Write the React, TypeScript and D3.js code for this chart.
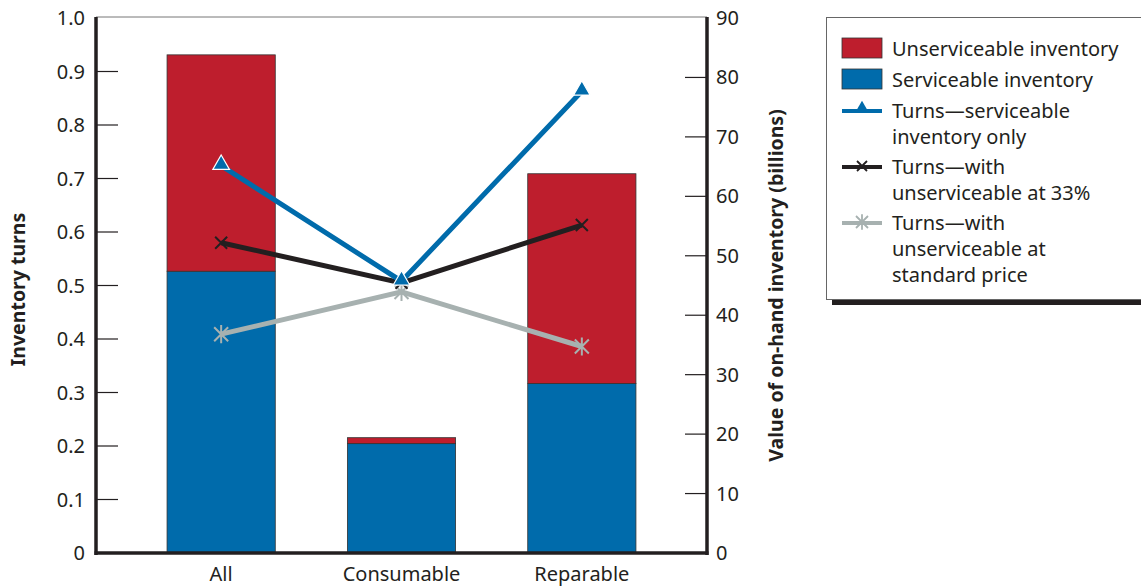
import React, { useEffect, useRef } from "react";
import * as d3 from "d3";

const categories = ["All", "Consumable", "Reparable"];
const serviceable = [47.4, 18.4, 28.5];
const unserviceable = [36.4, 1.0, 35.3];
const turnsServiceable = [0.724, 0.508, 0.863];
const turns33 = [0.58, 0.505, 0.613];
const turnsStandard = [0.409, 0.488, 0.386];
const leftTicks = [0, 0.1, 0.2, 0.3, 0.4, 0.5, 0.6, 0.7, 0.8, 0.9, 1.0];
const rightTicks = [0, 10, 20, 30, 40, 50, 60, 70, 80, 90];

const RED = "#BE1E2D";
const BLUE = "#006BAB";
const BLACK = "#231F20";
const GRAY = "#A7B1B0";
const FONT = "'Noto Sans', 'Open Sans', sans-serif";

export default function App() {
  const ref = useRef<SVGSVGElement>(null);

  useEffect(() => {
    const svg = d3.select(ref.current);
    svg.selectAll("*").remove();
    const L = 96, R = 707, T = 18, B = 553;

    const x = d3.scaleBand<string>().domain(categories).range([L, R]).paddingInner(0.4).paddingOuter(0.394);
    const yL = d3.scaleLinear().domain([0, 1]).range([B, T]);
    const yR = d3.scaleLinear().domain([0, 90]).range([B, T]);

    // top border
    svg.append("line").attr("x1", L).attr("x2", R).attr("y1", T - 1).attr("y2", T - 1).attr("stroke", "#777").attr("stroke-width", 1);

    // bars
    const g = svg.append("g");
    categories.forEach((c, i) => {
      const x0 = x(c)!;
      const w = x.bandwidth();
      g.append("rect").attr("x", x0).attr("y", yR(serviceable[i])).attr("width", w)
        .attr("height", yR(0) - yR(serviceable[i])).attr("fill", BLUE).attr("stroke", "#333").attr("stroke-width", 0.8);
      g.append("rect").attr("x", x0).attr("y", yR(serviceable[i] + unserviceable[i])).attr("width", w)
        .attr("height", yR(serviceable[i]) - yR(serviceable[i] + unserviceable[i])).attr("fill", RED).attr("stroke", "#333").attr("stroke-width", 0.8);
    });

    // axes lines
    svg.append("line").attr("x1", L).attr("x2", L).attr("y1", T - 1).attr("y2", B + 2).attr("stroke", BLACK).attr("stroke-width", 3.5);
    svg.append("line").attr("x1", R).attr("x2", R).attr("y1", T - 1).attr("y2", B + 2).attr("stroke", BLACK).attr("stroke-width", 3.5);
    svg.append("line").attr("x1", L - 1.5).attr("x2", R + 1.5).attr("y1", B).attr("y2", B).attr("stroke", BLACK).attr("stroke-width", 3.5);

    // left ticks
    leftTicks.forEach((t) => {
      if (t > 0 && t < 1) {
        svg.append("line").attr("x1", L).attr("x2", L + 22).attr("y1", yL(t)).attr("y2", yL(t)).attr("stroke", BLACK).attr("stroke-width", 1.2);
      }
      svg.append("text").attr("x", 85).attr("y", yL(t)).attr("dy", "0.35em").attr("text-anchor", "end")
        .attr("font-family", FONT).attr("font-size", 20).attr("fill", BLACK).text(t === 0 ? "0" : t.toFixed(1));
    });
    rightTicks.forEach((t) => {
      if (t > 0 && t < 90) {
        svg.append("line").attr("x1", R - 22).attr("x2", R).attr("y1", yR(t)).attr("y2", yR(t)).attr("stroke", BLACK).attr("stroke-width", 1.2);
      }
      svg.append("text").attr("x", 716).attr("y", yR(t)).attr("dy", "0.35em").attr("text-anchor", "start")
        .attr("font-family", FONT).attr("font-size", 20).attr("fill", BLACK).text(String(t));
    });

    // category labels
    categories.forEach((c) => {
      svg.append("text").attr("x", x(c)! + x.bandwidth() / 2).attr("y", 581).attr("text-anchor", "middle")
        .attr("font-family", FONT).attr("font-size", 20).attr("fill", BLACK).text(c);
    });

    // axis titles
    svg.append("text").attr("transform", `translate(25,${(T + B) / 2 + 4}) rotate(-90)`).attr("text-anchor", "middle")
      .attr("font-family", FONT).attr("font-weight", "bold").attr("font-size", 19.5).attr("fill", BLACK).text("Inventory turns");
    svg.append("text").attr("transform", `translate(783,${(T + B) / 2}) rotate(-90)`).attr("text-anchor", "middle")
      .attr("font-family", FONT).attr("font-weight", "bold").attr("font-size", 19.5).attr("fill", BLACK).text("Value of on-hand inventory (billions)");

    const cx = (i: number) => x(categories[i])! + x.bandwidth() / 2;
    const line = d3.line<number>().x((_, i) => cx(i)).y((d) => yL(d));

    const tri = d3.symbol().type(d3.symbolTriangle).size(120);
    const drawX = (sel: any, px: number, py: number, color: string, s: number, w: number) => {
      sel.append("path").attr("d", `M${px - s},${py - s}L${px + s},${py + s}M${px - s},${py + s}L${px + s},${py - s}`)
        .attr("stroke", color).attr("stroke-width", w).attr("fill", "none");
    };
    const drawStar = (sel: any, px: number, py: number, color: string, s: number, w: number) => {
      sel.append("path").attr("d", `M${px - s},${py - s}L${px + s},${py + s}M${px - s},${py + s}L${px + s},${py - s}M${px},${py - s * 1.3}L${px},${py + s * 1.3}`)
        .attr("stroke", color).attr("stroke-width", w).attr("fill", "none");
    };

    // gray line
    svg.append("path").attr("d", line(turnsStandard)).attr("stroke", GRAY).attr("stroke-width", 5).attr("fill", "none");
    turnsStandard.forEach((v, i) => drawStar(svg, cx(i), yL(v), GRAY, 7, 2));
    // black line
    svg.append("path").attr("d", line(turns33)).attr("stroke", BLACK).attr("stroke-width", 5).attr("fill", "none");
    turns33.forEach((v, i) => drawX(svg, cx(i), yL(v), BLACK, 6, 2));
    // blue line
    svg.append("path").attr("d", line(turnsServiceable)).attr("stroke", BLUE).attr("stroke-width", 5).attr("fill", "none");
    turnsServiceable.forEach((v, i) => {
      svg.append("path").attr("d", tri).attr("transform", `translate(${cx(i)},${yL(v) - 1})`)
        .attr("fill", BLUE).attr("stroke", "#fff").attr("stroke-width", 1.2);
    });

    // legend
    const lg = svg.append("g");
    lg.append("rect").attr("x", 832).attr("y", 23).attr("width", 320).attr("height", 282).attr("fill", BLACK);
    lg.append("rect").attr("x", 826.5).attr("y", 17.5).attr("width", 320).attr("height", 282).attr("fill", "#fff").attr("stroke", "#666").attr("stroke-width", 1);
    const lx = 842, tx = 892;
    lg.append("rect").attr("x", lx).attr("y", 38).attr("width", 40).attr("height", 20).attr("fill", RED).attr("stroke", "#333").attr("stroke-width", 0.8);
    lg.append("rect").attr("x", lx).attr("y", 69).attr("width", 40).attr("height", 20).attr("fill", BLUE).attr("stroke", "#333").attr("stroke-width", 0.8);
    lg.append("line").attr("x1", lx).attr("x2", lx + 40).attr("y1", 111).attr("y2", 111).attr("stroke", BLUE).attr("stroke-width", 4);
    lg.append("path").attr("d", d3.symbol().type(d3.symbolTriangle).size(70)()).attr("transform", `translate(${lx + 20},108)`).attr("fill", BLUE);
    lg.append("line").attr("x1", lx).attr("x2", lx + 40).attr("y1", 167).attr("y2", 167).attr("stroke", BLACK).attr("stroke-width", 4);
    drawX(lg, lx + 20, 166, BLACK, 5, 1.8);
    lg.append("line").attr("x1", lx).attr("x2", lx + 40).attr("y1", 223).attr("y2", 223).attr("stroke", GRAY).attr("stroke-width", 4);
    drawStar(lg, lx + 20, 222, GRAY, 6, 1.8);

    const texts: [string, number][] = [
      ["Unserviceable inventory", 49],
      ["Serviceable inventory", 80],
      ["Turns\u2014serviceable", 111],
      ["inventory only", 137],
      ["Turns\u2014with", 167],
      ["unserviceable at 33%", 193],
      ["Turns\u2014with", 223],
      ["unserviceable at", 249],
      ["standard price", 275],
    ];
    texts.forEach(([t, y]) => {
      lg.append("text").attr("x", tx).attr("y", y).attr("dy", "0.35em").attr("font-family", FONT)
        .attr("font-size", 20).attr("fill", BLACK).text(t);
    });
  }, []);

  return (
    <svg ref={ref} width={1141} height={587} style={{ position: "absolute", left: 0, top: 0, background: "#fff" }} />
  );
}
